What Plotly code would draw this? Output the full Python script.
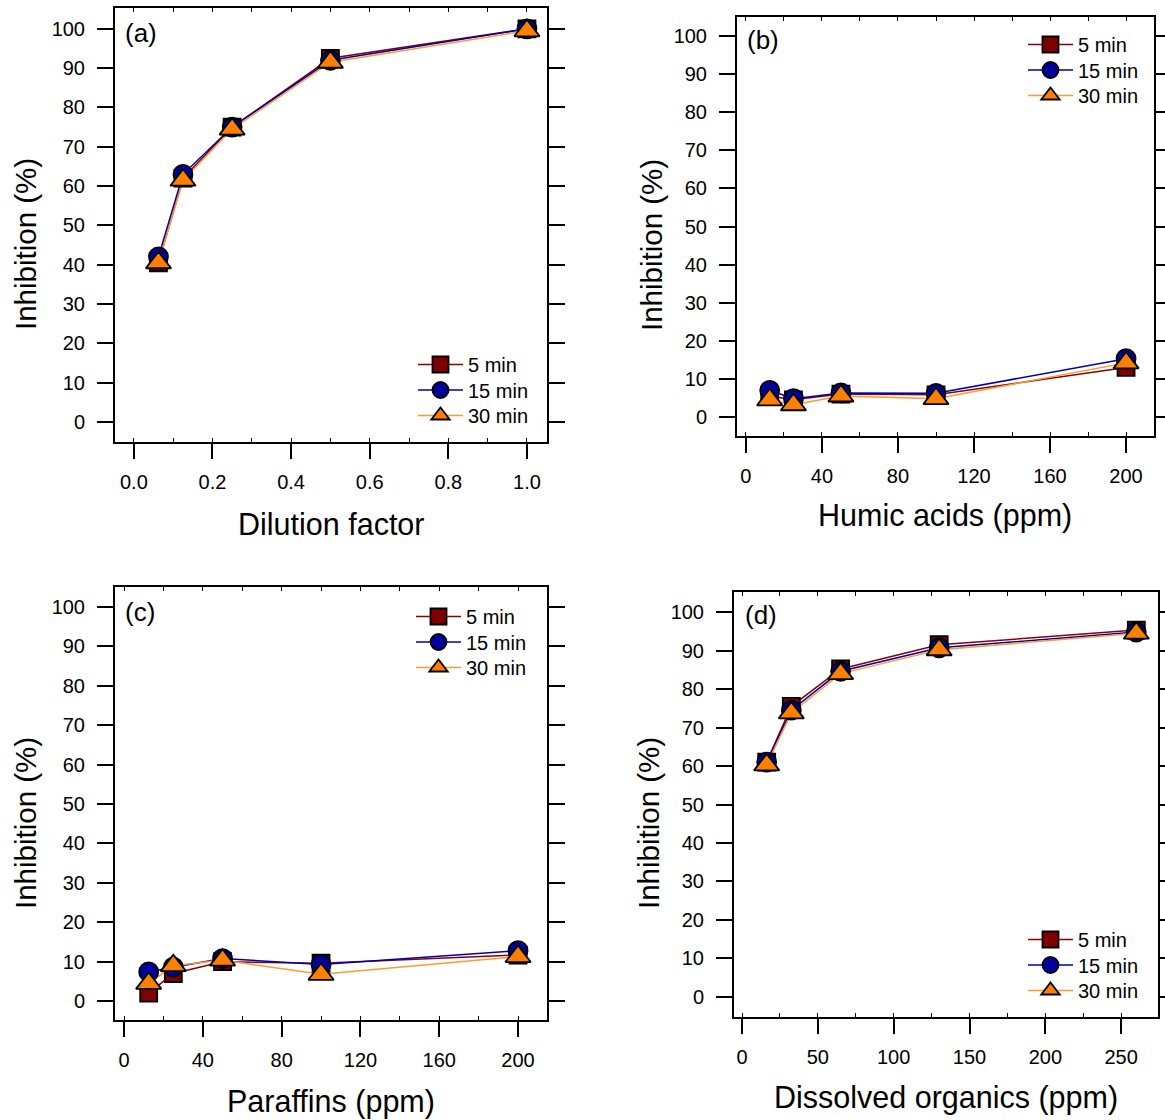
import plotly.graph_objects as go

W, H = 1165, 1120
FONT = "Liberation Sans, Arial, sans-serif"

# ---------------- data ----------------
series_names = ["5 min", "15 min", "30 min"]

dilution_factor = [0.0625, 0.125, 0.25, 0.5, 1.0]
dil_5min = [40.5, 62.0, 75.0, 92.5, 100.0]
dil_15min = [42.0, 63.0, 75.0, 92.0, 100.0]
dil_30min = [40.5, 61.5, 74.5, 91.5, 99.5]

humic_ppm = [12.5, 25, 50, 100, 200]
hum_5min = [5.5, 4.5, 6.0, 5.8, 13.0]
hum_15min = [7.0, 4.8, 6.3, 6.2, 15.3]
hum_30min = [4.5, 3.2, 5.5, 4.8, 14.2]

paraffin_ppm = [12.5, 25, 50, 100, 200]
par_5min = [2.0, 7.0, 10.0, 9.6, 11.7]
par_15min = [7.4, 8.6, 10.8, 9.3, 12.8]
par_30min = [4.5, 9.0, 10.4, 6.8, 11.3]

dissolved_ppm = [16.25, 32.5, 65, 130, 260]
dis_5min = [61.0, 75.5, 85.2, 91.5, 95.3]
dis_15min = [61.0, 74.5, 84.6, 90.7, 94.8]
dis_30min = [60.3, 73.8, 84.0, 90.2, 94.5]

y_ticks = [0, 10, 20, 30, 40, 50, 60, 70, 80, 90, 100]
dil_ticks = [0.0, 0.2, 0.4, 0.6, 0.8, 1.0]
dil_ticklabels = ["0.0", "0.2", "0.4", "0.6", "0.8", "1.0"]
ppm200_ticks = [0, 40, 80, 120, 160, 200]
ppm250_ticks = [0, 50, 100, 150, 200, 250]

x_titles = ["Dilution factor", "Humic acids (ppm)", "Paraffins (ppm)", "Dissolved organics (ppm)"]
panel_labels = ["(a)", "(b)", "(c)", "(d)"]
y_title = "Inhibition (%)"

# ---------------- styles ----------------
symbols = ["square", "circle", "triangle-up"]
msizes = [17, 19, 22]
fills = ["#7F0000", "#00009C", "#FF8000"]
lcolors = ["#8B0000", "#0000B0", "#FF9a30"]


def fx(px):
    return px / W


def fy(py):
    return 1 - py / H


panels = [
    dict(x=dilution_factor, ys=[dil_5min, dil_15min, dil_30min],
         box=(115, 547, 8, 442), xr=[-0.048, 1.051], yr=[-5.1, 105.3],
         ticks=dil_ticks, ticktext=dil_ticklabels, minor=0.1,
         xt=(331, 524), yt=(25, 244), lab=(123, 33),
         leg=(418, 365)),
    dict(x=humic_ppm, ys=[hum_5min, hum_15min, hum_30min],
         box=(737, 1154, 17, 436), xr=[-4.7, 214.7], yr=[-5.0, 105.0],
         ticks=ppm200_ticks, ticktext=[str(v) for v in ppm200_ticks], minor=20,
         xt=(945, 516), yt=(651, 245), lab=(745, 40),
         leg=(1028, 45)),
    dict(x=paraffin_ppm, ys=[par_5min, par_15min, par_30min],
         box=(115, 547, 587, 1020), xr=[-4.6, 214.7], yr=[-4.8, 105.1],
         ticks=ppm200_ticks, ticktext=[str(v) for v in ppm200_ticks], minor=20,
         xt=(331, 1101), yt=(25, 823), lab=(123, 612),
         leg=(416, 617)),
    dict(x=dissolved_ppm, ys=[dis_5min, dis_15min, dis_30min],
         box=(734, 1158, 592, 1017), xr=[-5.3, 274.3], yr=[-5.2, 105.2],
         ticks=ppm250_ticks, ticktext=[str(v) for v in ppm250_ticks], minor=25,
         xt=(946, 1097), yt=(648, 823), lab=(743, 615),
         leg=(1028, 940)),
]
ROW = 25.5

fig = go.Figure()
layout = dict(
    width=W, height=H, autosize=False,
    margin=dict(l=0, r=0, t=0, b=0, autoexpand=False),
    paper_bgcolor="white", plot_bgcolor="white",
    font=dict(family=FONT, size=20, color="black"),
    annotations=[],
)

for i, p in enumerate(panels):
    n = i + 1
    sfx = "" if n == 1 else str(n)
    xref, yref = "x" + sfx, "y" + sfx
    top_ax = "x" + str(n + 4)
    l, r, t, b = p["box"]
    # lines first (under all markers)
    for k in range(3):
        fig.add_trace(go.Scatter(
            x=p["x"], y=p["ys"][k], mode="lines", xaxis=xref, yaxis=yref,
            line=dict(color=lcolors[k], width=1.5), showlegend=False, hoverinfo="skip"))
    for k in range(3):
        fig.add_trace(go.Scatter(
            x=p["x"], y=p["ys"][k], mode="markers", xaxis=xref, yaxis=yref,
            marker=dict(symbol=symbols[k], size=msizes[k], color=fills[k],
                        line=dict(color="black", width=1.8)),
            showlegend=False, name=series_names[k]))
    lx0, ly0 = p["leg"]
    for k in range(3):
        idx = i * 3 + k + 1
        legname = "legend" if idx == 1 else "legend" + str(idx)
        fig.add_trace(go.Scatter(
            x=[None], y=[None], mode="lines+markers", xaxis=xref, yaxis=yref,
            name=series_names[k], legend=legname,
            line=dict(color=lcolors[k], width=1.5),
            marker=dict(symbol=symbols[k], size=msizes[k], color=fills[k],
                        line=dict(color="black", width=1.8))))
        layout[legname] = dict(
            x=fx(lx0 - 5), y=fy(ly0 + k * ROW - 20), xanchor="left", yanchor="top",
            bgcolor="rgba(0,0,0,0)", borderwidth=0, itemwidth=45,
            font=dict(family=FONT, size=20, color="black"),
        )
    # dummy trace for top minor tick axis
    fig.add_trace(go.Scatter(x=[None], y=[None], xaxis=top_ax, yaxis=yref,
                             showlegend=False, hoverinfo="skip"))

    layout["xaxis" + sfx] = dict(
        domain=[fx(l), fx(r)], range=p["xr"], anchor=yref,
        showline=True, linecolor="black", linewidth=2, mirror=True,
        ticks="outside", ticklen=15, tickwidth=1.5, tickcolor="black",
        tickvals=p["ticks"], ticktext=p["ticktext"], ticklabelstandoff=6,
        tickfont=dict(family=FONT, size=20, color="black"),
        minor=dict(ticks="inside", ticklen=4, tickwidth=1, tickcolor="black",
                   tickmode="linear", tick0=0, dtick=p["minor"]),
        showgrid=False, zeroline=False,
    )
    layout["xaxis" + str(n + 4)] = dict(
        overlaying=xref, anchor=yref, side="top", range=p["xr"],
        tickmode="linear", tick0=0, dtick=p["minor"],
        ticks="inside", ticklen=4, tickwidth=1, tickcolor="black",
        showticklabels=False, showgrid=False, zeroline=False, showline=False,
    )
    layout["yaxis" + sfx] = dict(
        domain=[fy(b), fy(t)], range=p["yr"], anchor=xref,
        showline=True, linecolor="black", linewidth=2, mirror="ticks",
        ticks="outside", ticklen=16, tickwidth=1.5, tickcolor="black",
        tickvals=y_ticks, ticklabelstandoff=8,
        tickfont=dict(family=FONT, size=20, color="black"),
        showgrid=False, zeroline=False,
    )
    ax, ay = p["xt"]
    layout["annotations"].append(dict(
        text=x_titles[i], x=fx(ax), y=fy(ay), xref="paper", yref="paper",
        xanchor="center", yanchor="middle", showarrow=False,
        font=dict(family=FONT, size=30.5, color="black")))
    tx, ty = p["yt"]
    layout["annotations"].append(dict(
        text=y_title, x=fx(tx), y=fy(ty), xref="paper", yref="paper",
        xanchor="center", yanchor="middle", showarrow=False, textangle=-90,
        font=dict(family=FONT, size=29.5, color="black")))
    lx, ly = p["lab"]
    layout["annotations"].append(dict(
        text=panel_labels[i], x=fx(lx), y=fy(ly), xref="paper", yref="paper",
        xanchor="left", yanchor="middle", showarrow=False,
        font=dict(family=FONT, size=26, color="black")))

fig.update_layout(**layout)
fig.write_html(
    "out.html",
    config={"responsive": False, "displayModeBar": False},
    post_script="document.body.style.margin='0px';document.body.style.overflow='hidden';",
)
